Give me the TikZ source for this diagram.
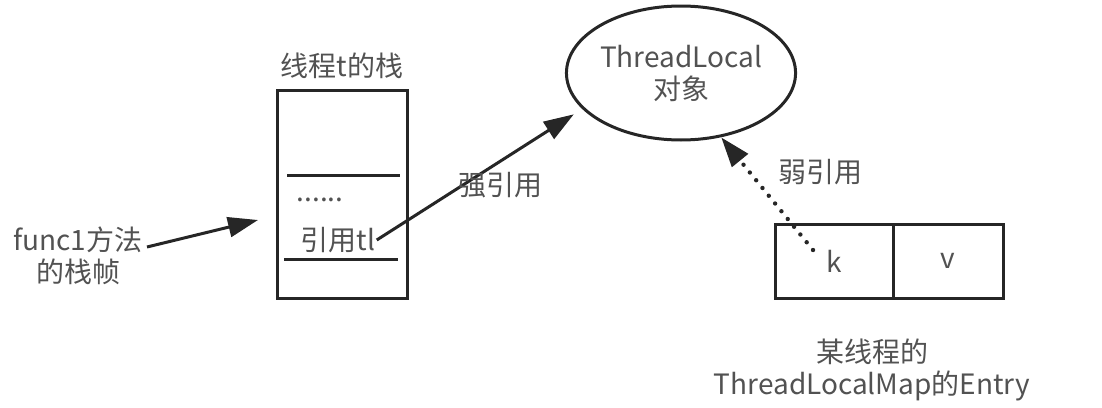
\documentclass[tikz,border=0pt]{standalone}
\usepackage{fontspec}
\setmainfont{Noto Sans CJK SC}
\usepackage{tikz}
\usetikzlibrary{arrows.meta, positioning, shapes.geometric}
\colorlet{textgray}{black!68}
\colorlet{linegray}{black!85}

\begin{document}
\begin{tikzpicture}[x=1pt, y=-1pt, >={Triangle[length=30pt, width=20pt]},
    line width=3pt, draw=linegray,
    txt/.style={text=textgray, font=\fontsize{28}{32}\selectfont, inner sep=0pt, align=center},
    cell/.style={draw, minimum height=74pt, outer sep=0pt, txt, text=textgray},
    refdots/.style={line width=4.4pt, line cap=round, dash pattern=on 0pt off 10pt}]
    \useasboundingbox (0,0) rectangle (1102,407);

    % Stack of thread t
    \node[draw, minimum width=130pt, minimum height=208pt] (stack) at (342,194) {};
    \node[txt, above=8pt of stack] (stacktitle) {线程t的栈};
    \draw (287,175) -- (400,175);
    \draw (284,259) -- (398,259);
    \node[txt] (dots) at (320,200) {......};
    \node[txt] (reftl) at (338,240) {引用tl};

    % Frame of func1
    \node[txt] (func) at (78,256) {func1方法\\的栈帧};
    \coordinate (funcend) at (258,220);
    \draw[->] ([yshift=9pt, xshift=3pt]func.east) -- (funcend);

    % ThreadLocal object
    \node[draw, ellipse, minimum width=222pt, minimum height=134pt, txt, text=textgray] (tl) at (681,73) {ThreadLocal\\对象};
    \draw[->, shorten >=10pt] (reftl.east) -- (tl.200);
    \node[txt] (strong) at (500,185) {强引用};

    % Entry of ThreadLocalMap
    \node[cell, minimum width=118pt] (kcell) at (834,261) {k};
    \node[cell, minimum width=110pt, right=0pt of kcell] (vcell) {v};
    \coordinate (kdot) at (813,250);
    \draw[->, refdots] (kdot) -- (tl.302);
    \node[txt] (weak) at (820,172) {弱引用};

    \node[txt] (entry) at (872,370) {某线程的\\ThreadLocalMap的Entry};
\end{tikzpicture}
\end{document}
